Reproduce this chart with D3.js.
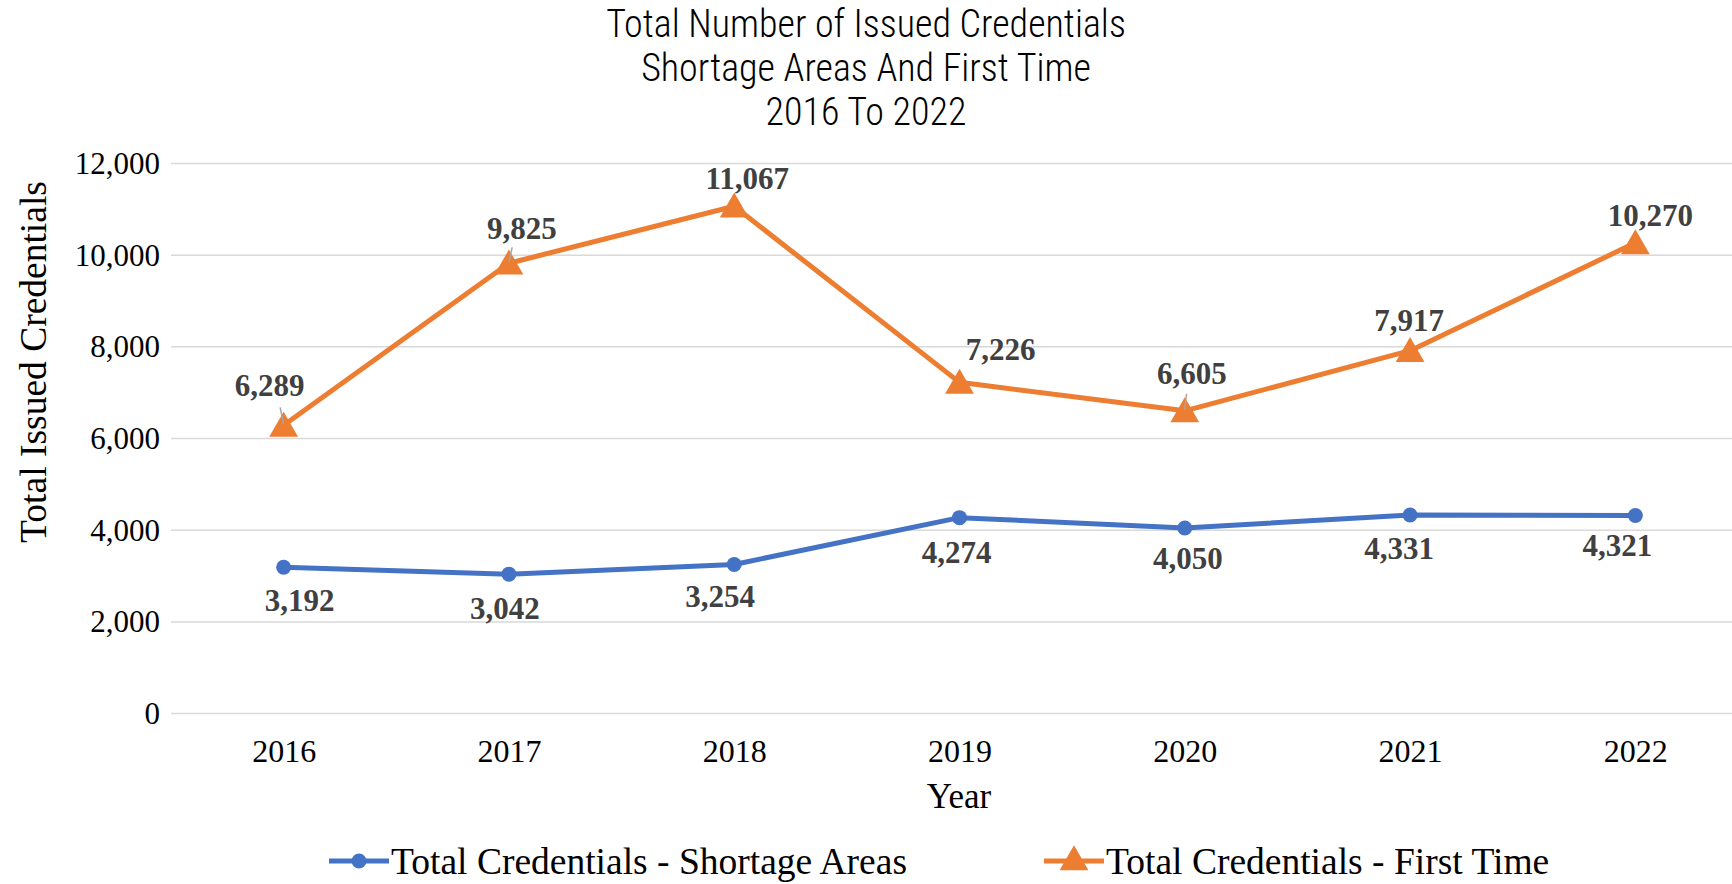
<!DOCTYPE html>
<html>
<head>
<meta charset="utf-8">
<script src="https://cdn.jsdelivr.net/npm/d3@7"></script>
<style>
  html, body { margin: 0; padding: 0; background: #fff; }
  svg { display: block; }
</style>
</head>
<body>
<svg id="chart" width="1732" height="884"></svg>
<script>
// ---- data ----
const years = ["2016", "2017", "2018", "2019", "2020", "2021", "2022"];
const shortageAreas = [3192, 3042, 3254, 4274, 4050, 4331, 4321];
const firstTime = [6289, 9825, 11067, 7226, 6605, 7917, 10270];
const yTicks = [0, 2000, 4000, 6000, 8000, 10000, 12000];
const seriesNames = ["Total Credentials - Shortage Areas", "Total Credentials - First Time"];
const titleLines = ["Total Number of Issued Credentials", "Shortage Areas And First Time", "2016 To 2022"];

// label nudges (layout only, relative to each point)
const shortLabelOffset = [[16, 33], [-4, 34], [-14, 32], [-3, 34], [3, 30], [-11, 33], [-18, 30]];
const firstLabelOffset = [[-14, -40], [13, -35], [13, -28], [41, -33], [7, -38], [-1, -31], [15, -28]];
const firstLeader = [true, true, false, false, true, false, false];

const W = 1732, H = 884;
const svg = d3.select("#chart");
const BLUE = "#4472C4", ORANGE = "#ED7D31";
const serif = "'Liberation Serif', 'Times New Roman', Times, serif";
const narrow = "'Liberation Sans Narrow', 'Arial Narrow', 'Roboto Condensed', 'Liberation Sans', sans-serif";

const x = d3.scalePoint().domain(years).range([171, 1748]).padding(0.5);
const y = d3.scaleLinear().domain([0, 12000]).range([713.6, 163.5]);

// title
const title = svg.append("text").attr("text-anchor", "middle")
  .style("font-family", narrow).style("font-size", "38px").style("font-weight", "300").attr("fill", "#000");
titleLines.forEach((t, i) => {
  title.append("tspan").attr("x", W / 2).attr("y", 37 + i * 44).text(t);
});

// gridlines
svg.append("g").selectAll("line").data(yTicks).join("line")
  .attr("x1", 171).attr("x2", W)
  .attr("y1", d => y(d)).attr("y2", d => y(d))
  .attr("stroke", "#D9D9D9").attr("stroke-width", 1.5);

// y axis
const yAxis = svg.append("g").attr("transform", "translate(167,0)")
  .call(d3.axisLeft(y).tickValues(yTicks).tickSize(0).tickPadding(7).tickFormat(d3.format(",")));
yAxis.select(".domain").remove();
yAxis.selectAll("text").style("font-family", serif).style("font-size", "31px").attr("fill", "#000");

// x axis
const xAxis = svg.append("g").attr("transform", `translate(0,${y(0)})`)
  .call(d3.axisBottom(x).tickSize(0).tickPadding(26));
xAxis.select(".domain").remove();
xAxis.selectAll("text").style("font-family", serif).style("font-size", "32px").attr("fill", "#000");

// axis titles
svg.append("text").attr("x", 959).attr("y", 808).attr("text-anchor", "middle")
  .style("font-family", serif).style("font-size", "35px").text("Year");
svg.append("text").attr("transform", "translate(46,362) rotate(-90)").attr("text-anchor", "middle")
  .style("font-family", serif).style("font-size", "37.5px").text("Total Issued Credentials");

const line = d3.line().x((d, i) => x(years[i])).y(d => y(d));
const tri = d3.symbol().type(d3.symbolTriangle).size(360);

// series: shortage areas
svg.append("path").datum(shortageAreas).attr("d", line)
  .attr("fill", "none").attr("stroke", BLUE).attr("stroke-width", 5).attr("stroke-linejoin", "round");
svg.append("g").selectAll("circle").data(shortageAreas).join("circle")
  .attr("cx", (d, i) => x(years[i])).attr("cy", d => y(d)).attr("r", 7.5).attr("fill", BLUE);

// series: first time
svg.append("path").datum(firstTime).attr("d", line)
  .attr("fill", "none").attr("stroke", ORANGE).attr("stroke-width", 5).attr("stroke-linejoin", "round");

svg.append("g").selectAll("path").data(firstTime).join("path")
  .attr("d", tri)
  .attr("transform", (d, i) => `translate(${x(years[i])},${y(d) + 3})`)
  .attr("fill", ORANGE);

// leader lines (drawn over the markers, as in the reference)
svg.append("g").selectAll("line").data(firstTime.map((v, i) => ({ v, i })).filter(d => firstLeader[d.i])).join("line")
  .attr("x1", d => x(years[d.i]) + firstLabelOffset[d.i][0] * 0.25)
  .attr("y1", d => y(d.v) + firstLabelOffset[d.i][1] * 0.45)
  .attr("x2", d => x(years[d.i]))
  .attr("y2", d => y(d.v) - 1)
  .attr("stroke", "#A6A6A6").attr("stroke-width", 1.5);

// data labels
const fmt = d3.format(",");
svg.append("g").selectAll("text").data(shortageAreas).join("text")
  .attr("x", (d, i) => x(years[i]) + shortLabelOffset[i][0])
  .attr("y", (d, i) => y(d) + shortLabelOffset[i][1])
  .attr("dy", "0.35em").attr("text-anchor", "middle")
  .style("font-family", serif).style("font-size", "31px").style("font-weight", "bold")
  .attr("fill", "#404040").text(d => fmt(d));
svg.append("g").selectAll("text").data(firstTime).join("text")
  .attr("x", (d, i) => x(years[i]) + firstLabelOffset[i][0])
  .attr("y", (d, i) => y(d) + firstLabelOffset[i][1])
  .attr("dy", "0.35em").attr("text-anchor", "middle")
  .style("font-family", serif).style("font-size", "31px").style("font-weight", "bold")
  .attr("fill", "#404040").text(d => fmt(d));

// legend
const legendY = 861;
const legendItems = [
  { name: seriesNames[0], color: BLUE, x0: 329, kind: "circle" },
  { name: seriesNames[1], color: ORANGE, x0: 1044, kind: "tri" }
];
legendItems.forEach(it => {
  const g = svg.append("g");
  g.append("line").attr("x1", it.x0).attr("x2", it.x0 + 60).attr("y1", legendY).attr("y2", legendY)
    .attr("stroke", it.color).attr("stroke-width", 5);
  if (it.kind === "circle") {
    g.append("circle").attr("cx", it.x0 + 30).attr("cy", legendY).attr("r", 7.5).attr("fill", it.color);
  } else {
    g.append("path").attr("d", tri).attr("transform", `translate(${it.x0 + 30},${legendY + 1})`).attr("fill", it.color);
  }
  g.append("text").attr("x", it.x0 + 62).attr("y", legendY).attr("dy", "0.35em")
    .style("font-family", serif).style("font-size", "37.5px").attr("fill", "#000").text(it.name);
});
</script>
</body>
</html>
